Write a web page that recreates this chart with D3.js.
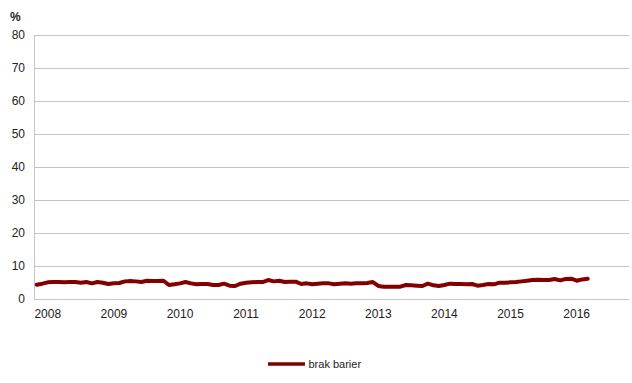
<!DOCTYPE html>
<html>
<head>
<meta charset="utf-8">
<script src="https://cdn.jsdelivr.net/npm/d3@7"></script>
<style>
  html, body { margin: 0; padding: 0; background: #fff; }
  svg { display: block; font-family: "Liberation Sans", Arial, sans-serif; }
</style>
</head>
<body>
<svg id="chart" width="632" height="383"></svg>
<script>
// Monthly share (%) – series "brak barier"
const seriesName = "brak barier";
const values = [
  4.2, 4.5, 4.9, 5.0, 5.0, 4.9, 5.0, 5.0, 4.8, 5.0, 4.6, 5.0,
  4.8, 4.4, 4.6, 4.7, 5.2, 5.3, 5.2, 5.0, 5.4, 5.3, 5.3, 5.4,
  4.1, 4.3, 4.6, 5.0, 4.6, 4.3, 4.4, 4.4, 4.1, 4.1, 4.5, 3.9,
  3.8, 4.5, 4.8, 4.9, 5.0, 5.0, 5.6, 5.2, 5.4, 5.0, 5.1, 5.1,
  4.4, 4.6, 4.3, 4.5, 4.6, 4.6, 4.3, 4.5, 4.6, 4.5, 4.6, 4.6,
  4.7, 5.0, 3.8, 3.6, 3.6, 3.6, 3.6, 4.1, 4.0, 3.9, 3.8, 4.5,
  4.0, 3.8, 4.1, 4.5, 4.4, 4.4, 4.3, 4.4, 3.9, 4.1, 4.4, 4.3,
  4.8, 4.8, 4.9, 5.0, 5.2, 5.4, 5.6, 5.7, 5.6, 5.6, 5.9, 5.5,
  5.9, 6.0, 5.4, 5.8, 6.0
];
const totalCategories = 108;           // months on the category axis
const yearLabels = ["2008","2009","2010","2011","2012","2013","2014","2015","2016"];
const yearLabelIndex = [2, 14, 26, 38, 50, 62, 74, 86, 98];
const yTicks = [0, 10, 20, 30, 40, 50, 60, 70, 80];

(function () {
const svg = d3.select("#chart");
const pLeft = 34, pRight = 629, pTop = 35, pBottom = 298.5;

const x = d3.scaleLinear().domain([-0.5, totalCategories - 0.5]).range([pLeft, pRight]);
const y = d3.scaleLinear().domain([0, 80]).range([pBottom, pTop]);

// gridlines
svg.append("g").selectAll("line").data(yTicks).join("line")
  .attr("x1", pLeft).attr("x2", pRight)
  .attr("y1", d => Math.round(y(d)) + 0.5).attr("y2", d => Math.round(y(d)) + 0.5)
  .attr("stroke", "#c4c4c4").attr("stroke-width", 1);

// y axis line
svg.append("line")
  .attr("x1", pLeft + 0.5).attr("x2", pLeft + 0.5)
  .attr("y1", Math.round(y(80)) + 0.5).attr("y2", Math.round(y(0)) + 0.5)
  .attr("stroke", "#c4c4c4");

// y labels via axis generator (styled)
const yAxis = d3.axisLeft(y).tickValues(yTicks).tickSize(0).tickPadding(0);
const gy = svg.append("g").attr("transform", `translate(25,0)`).call(yAxis);
gy.select(".domain").remove();
gy.selectAll("text").attr("font-size", 12).attr("fill", "#222")
  .attr("font-family", "Liberation Sans, Arial, sans-serif");

svg.append("text").attr("x", 10).attr("y", 21)
  .attr("font-size", 12).attr("font-weight", "bold").attr("fill", "#222")
  .text("%");

// x labels
svg.append("g").selectAll("text").data(yearLabels).join("text")
  .attr("x", (d, i) => x(yearLabelIndex[i]))
  .attr("y", 317.5)
  .attr("text-anchor", "middle")
  .attr("font-size", 12).attr("fill", "#222")
  .text(d => d);

// line
const line = d3.line().x((d, i) => x(i)).y(d => y(d)).curve(d3.curveLinear);
svg.append("path").datum(values)
  .attr("d", line)
  .attr("fill", "none")
  .attr("stroke", "#820000")
  .attr("stroke-width", 4)
  .attr("stroke-linejoin", "round")
  .attr("stroke-linecap", "round");

// legend
const lg = svg.append("g");
lg.append("line").attr("x1", 268).attr("x2", 305).attr("y1", 364).attr("y2", 364)
  .attr("stroke", "#820000").attr("stroke-width", 3.5);
lg.append("text").attr("x", 308.5).attr("y", 368)
  .attr("font-size", 11).attr("fill", "#222").text(seriesName);
})();
</script>
</body>
</html>
